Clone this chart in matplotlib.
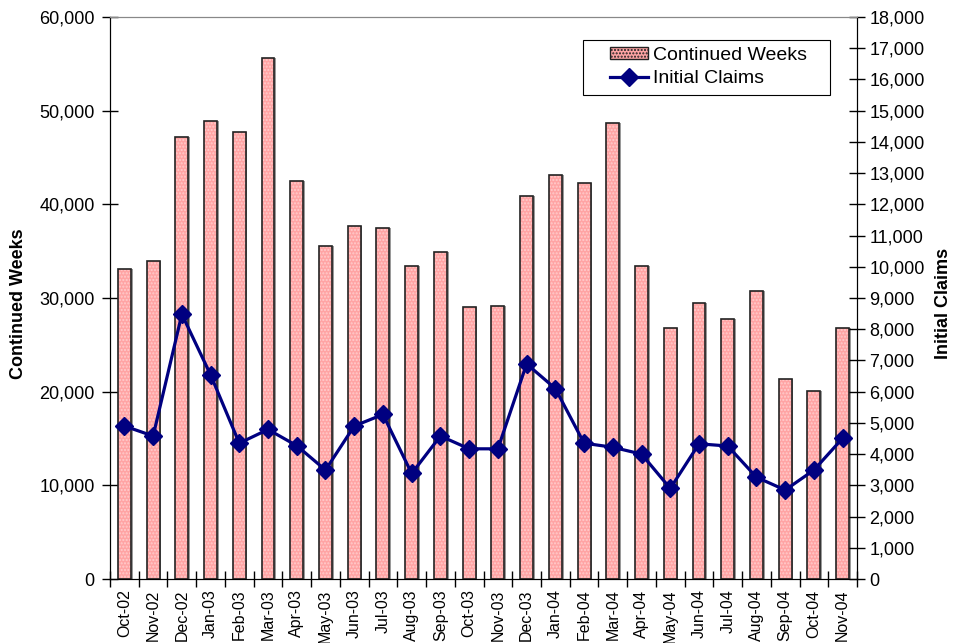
import matplotlib.pyplot as plt
import numpy as np
from matplotlib.ticker import FuncFormatter, MultipleLocator
from matplotlib.patches import Patch, Rectangle

plt.rcParams['font.family'] = ['Liberation Sans', 'DejaVu Sans']

months = ['Oct-02', 'Nov-02', 'Dec-02', 'Jan-03', 'Feb-03', 'Mar-03', 'Apr-03',
          'May-03', 'Jun-03', 'Jul-03', 'Aug-03', 'Sep-03', 'Oct-03', 'Nov-03',
          'Dec-03', 'Jan-04', 'Feb-04', 'Mar-04', 'Apr-04', 'May-04', 'Jun-04',
          'Jul-04', 'Aug-04', 'Sep-04', 'Oct-04', 'Nov-04']

# continued weeks (left axis)
continued = [33100, 33900, 47200, 48900, 47750, 55650, 42500,
             35500, 37700, 37450, 33450, 34950, 29000, 29150,
             40900, 43100, 42250, 48700, 33450, 26750, 29450,
             27800, 30750, 21400, 20100, 26750]

# initial claims (right axis)
initial = [4900, 4580, 8480, 6540, 4350, 4790, 4270,
           3490, 4900, 5270, 3380, 4580, 4170, 4170,
           6890, 6100, 4350, 4220, 4000, 2900, 4330,
           4260, 3260, 2850, 3490, 4510]

fig = plt.figure(figsize=(9.55, 6.43), dpi=100)
ax = fig.add_axes([0.1152, 0.0995, 0.7822, 0.8741])
ax2 = ax.twinx()

x = np.arange(len(months))
w = 0.45
pink = '#ffa4a4'
dots = '#ffcccc'

# bar shadow, dotted fill, then outline
ax.bar(x + 0.06, continued, w, color='#9a9a9a', linewidth=0, zorder=1)
ax.bar(x, continued, w, facecolor=pink, edgecolor=dots, hatch='.....',
       linewidth=0, zorder=2)
ax.bar(x, continued, w, fill=False, edgecolor='#222222', linewidth=1.2, zorder=3)

ax2.plot(x, initial, color='#000080', linewidth=2.3, marker='D', markersize=9,
         zorder=4)

ax.set_xlim(-0.5, len(months) - 0.5)
ax.set_ylim(0, 60000)
ax2.set_ylim(0, 18000)

fmt = FuncFormatter(lambda v, p: f'{int(v):,}')
ax.yaxis.set_major_locator(MultipleLocator(10000))
ax.yaxis.set_major_formatter(fmt)
ax2.yaxis.set_major_locator(MultipleLocator(1000))
ax2.yaxis.set_major_formatter(fmt)

ax.set_xticks(x)
ax.set_xticklabels(months, rotation=90, fontsize=11.5)
ax.set_xticks(np.arange(-0.5, len(months)), minor=True)
ax.tick_params(axis='x', which='major', length=0, pad=7.5)
ax.tick_params(axis='x', which='minor', direction='inout', length=11, width=1)
ax.tick_params(axis='y', direction='inout', length=12, width=1, labelsize=13, pad=5)
ax2.tick_params(axis='y', direction='inout', length=12, width=1, labelsize=13, pad=3)

for a in (ax, ax2):
    a.spines['top'].set_color('#888888')
    for s in ('left', 'right', 'bottom'):
        a.spines[s].set_color('black')

ax.set_ylabel('Continued Weeks', fontsize=13, fontweight='bold')
ax.yaxis.set_label_coords(-0.111, 0.49)
ax2.set_ylabel('Initial Claims', fontsize=13, fontweight='bold')
ax2.yaxis.set_label_coords(1.104, 0.49)

ax.set_zorder(ax2.get_zorder() - 1)
ax2.patch.set_visible(False)

# legend frame drawn by hand, Excel-like wide padding
fig.patches.append(Rectangle((583 / 955, 1 - 95 / 643), 247 / 955, 55 / 643,
                             transform=fig.transFigure, facecolor='white',
                             edgecolor='black', linewidth=0.8, zorder=5))
bar_handle = Patch(facecolor=pink, edgecolor='#222222', hatch='.....')
line_handle = plt.Line2D([], [], color='#000080', linewidth=2.3, marker='D',
                         markersize=9)
fig.legend([bar_handle, line_handle], ['Continued Weeks', 'Initial Claims'],
           loc='center left', bbox_to_anchor=(600 / 955, 1 - 67 / 643),
           bbox_transform=fig.transFigure, fontsize=14, frameon=False,
           borderpad=0, handlelength=1.95, handleheight=0.6,
           handletextpad=0.3, labelspacing=0.35)

fig.savefig('out.png', dpi=100)
